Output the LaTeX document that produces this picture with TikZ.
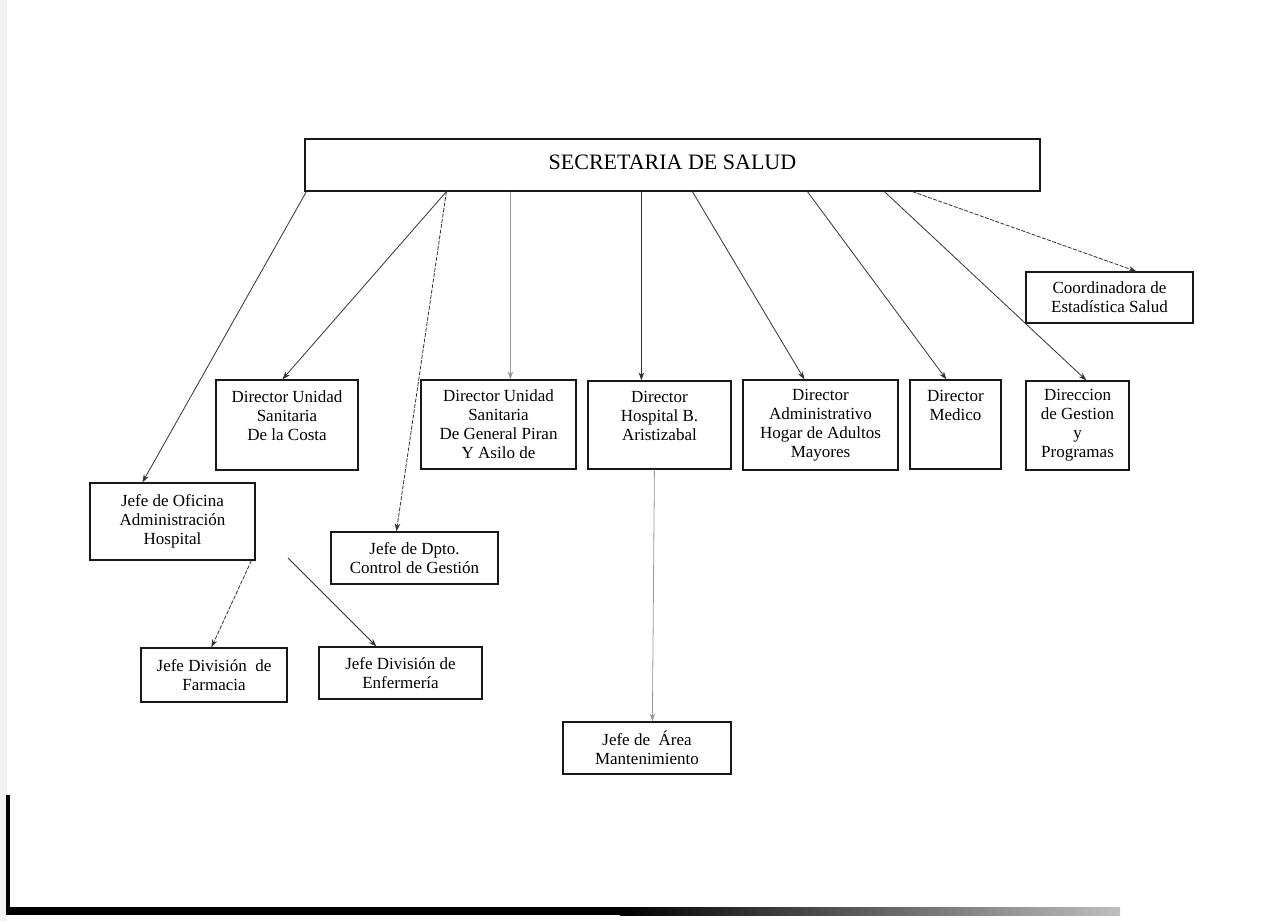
\documentclass[tikz,border=0pt]{standalone}
\usepackage{fontspec}
\setmainfont{Liberation Serif}
\usetikzlibrary{arrows.meta}
\begin{document}
\begin{tikzpicture}[x=1pt,y=-1pt,
  box/.style={draw=black!90, line width=1.2pt, inner sep=0pt, align=center,
    font=\fontsize{17}{19}\selectfont, text=black},
  link/.style={draw=black!80, line width=0.8pt, -{Stealth[length=8pt,width=5.5pt]}},
  faint/.style={link, draw=black!40},
  broken/.style={link, dash pattern=on 4pt off 1.5pt}]
\useasboundingbox (0,0) rectangle (1274,921);
\fill[white] (0,0) rectangle (1274,921);

% page edge left by the scanner
\fill[black!5] (0,0) rectangle (7,921);
\fill[black] (6,795) rectangle (10,915);
\fill[black] (6,907) rectangle (620,915);
\shade[left color=black, right color=black!25] (620,907) rectangle (1120,915);

% top level
\node[box, minimum width=735, minimum height=52, font=\fontsize{22}{26}\selectfont]
  (sec) at (672.5,165) {\raisebox{5pt}{SECRETARIA DE SALUD}};

% second level
\node[box, minimum width=167, minimum height=51] (coord) at (1109.5,297.5)
  {Coordinadora de\\Estadística Salud};
\node[box, minimum width=142, minimum height=90] (costa) at (287,425)
  {Director Unidad\\Sanitaria\\De la Costa\\\mbox{}};
\node[box, minimum width=155, minimum height=89] (piran) at (498.5,424.5)
  {Director Unidad\\Sanitaria\\De General Piran\\Y Asilo de};
\node[box, minimum width=143, minimum height=88] (hosp) at (659.5,425)
  {Director\\Hospital B.\\Aristizabal\\\mbox{}};
\node[box, minimum width=155, minimum height=90] (hogar) at (820.5,425)
  {Director\\Administrativo\\Hogar de Adultos\\Mayores};
\node[box, minimum width=91, minimum height=89] (medico) at (955.5,424.5)
  {Director\\Medico\\\mbox{}\\\mbox{}};
\node[box, minimum width=103, minimum height=89] (gestion) at (1077.5,425.5)
  {Direccion\\de Gestion\\y\\Programas};
\node[box, minimum width=165, minimum height=77] (ofic) at (172.5,521.5)
  {Jefe de Oficina\\Administración\\Hospital};
\node[box, minimum width=167, minimum height=52] (dpto) at (414.5,558)
  {Jefe de Dpto.\\Control de Gestión};

% third level
\node[box, minimum width=146, minimum height=54] (farm) at (214,675)
  {Jefe División~ de\\Farmacia};
\node[box, minimum width=163, minimum height=52] (enf) at (400.5,673)
  {Jefe División de\\Enfermería};
\node[box, minimum width=168, minimum height=52] (mant) at (647,748)
  {Jefe de~ Área\\Mantenimiento};

% connectors from the top box
\draw[link]   ([xshift=2pt]sec.south west)   -- ([xshift=53pt]ofic.north west);
\draw[link]   ([xshift=142pt]sec.south west) -- ([xshift=67pt]costa.north west);
\draw[broken] ([xshift=142pt]sec.south west) -- ([xshift=66pt]dpto.north west);
\draw[faint]  ([xshift=206pt]sec.south west) -- ([xshift=90pt]piran.north west);
\draw[link]   ([xshift=337pt]sec.south west) -- ([xshift=54pt]hosp.north west);
\draw[link]   ([xshift=388pt]sec.south west) -- ([xshift=62pt]hogar.north west);
\draw[link]   ([xshift=503pt]sec.south west) -- ([xshift=37pt]medico.north west);
\draw[link]   ([xshift=580pt]sec.south west) -- ([xshift=61pt]gestion.north west);
\draw[broken] ([xshift=608pt]sec.south west) -- ([xshift=111pt]coord.north west);

% lower connectors
\draw[faint]  ([xshift=67pt]hosp.south west) -- ([xshift=90pt]mant.north west);
\draw[broken] ([xshift=162pt]ofic.south west) -- ([xshift=71pt]farm.north west);
\coordinate (enfstart) at (288,558);
\draw[link]   (enfstart) -- ([xshift=58pt]enf.north west);
\end{tikzpicture}
\end{document}
